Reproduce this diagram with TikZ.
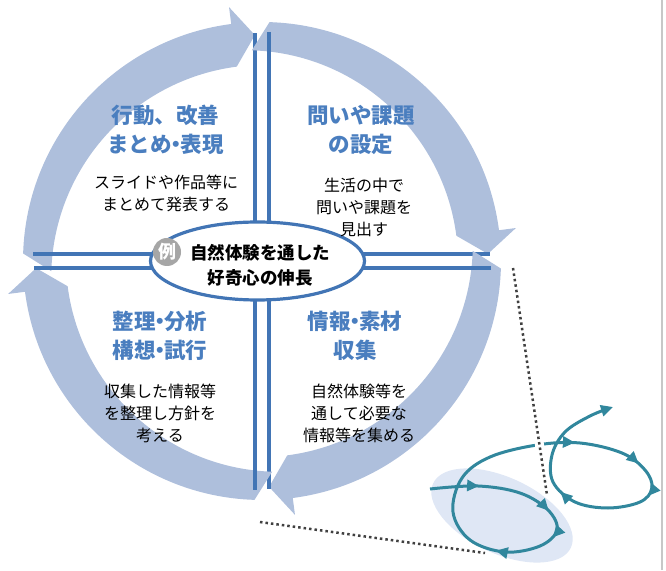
\documentclass[tikz,border=0pt]{standalone}
\usepackage{fontspec}
\setmainfont{Noto Sans CJK JP}
\usetikzlibrary{arrows.meta,decorations.markings,positioning,shapes.geometric}

\definecolor{bandblue}{RGB}{174,191,220}
\definecolor{lineblue}{RGB}{66,117,181}
\definecolor{titleblue}{RGB}{74,126,191}
\definecolor{loopteal}{RGB}{49,135,157}
\definecolor{paleblue}{RGB}{223,231,245}

\newcommand{\dotsep}{\kern-0.3em・\kern-0.3em}

\tikzset{
  tealtip/.style={-{Triangle[length=12pt,width=11pt]}},
  divider/.style={draw=lineblue,line width=3.2pt},
  steptitle/.style={text=titleblue,font=\fontsize{21.5}{29}\selectfont\bfseries,align=center},
  stepbody/.style={font=\fontsize{16}{22}\selectfont,align=center},
}

\begin{document}
\begin{tikzpicture}[x=1pt,y=1pt]
    \useasboundingbox (0,0) rectangle (666,570);

    % four arrow bands and dividers of the cycle
    \foreach \r in {0,-90,-180,-270} {
      \begin{scope}[shift={(262,309)},rotate=\r]
        \fill[bandblue] (178.2:239) arc[start angle=178.2,end angle=97.4,radius=239]
          -- (97.4:256) -- (91.8:226) -- (97.4:196)
          arc[start angle=97.4,end angle=178.2,radius=213] -- cycle;
        \draw[divider] (-229,7) -- (-7,7) -- (-7,228);
      \end{scope}
    }

    % centre theme
    \node[ellipse,draw=lineblue,line width=3.2pt,fill=white,
          minimum width=214pt,minimum height=78pt] (hub) at (257.5,309) {};
    \node[font=\fontsize{17.5}{25}\selectfont\bfseries,align=center] (theme) at (260,304.5)
        {自然体験を通した\\好奇心の伸長};
    \node[circle,fill=black!35,text=white,inner sep=0pt,minimum size=28pt,
          font=\fontsize{18}{18}\selectfont\bfseries] (rei) at (167,318) {例};

    % step texts
    \node[steptitle] (act) at (165.5,440) {行動、改善\\まとめ\dotsep 表現};
    \node[stepbody] (actnote) at (166,377) {スライドや作品等に\\まとめて発表する};

    \node[steptitle] (ask) at (361,440) {問いや課題\\の設定};
    \node[stepbody] (asknote) at (364,363) {生活の中で\\問いや課題を\\見出す};

    \node[steptitle] (sort) at (160,234) {整理\dotsep 分析\\構想\dotsep 試行};
    \node[stepbody] (sortnote) at (160,157) {収集した情報等\\を整理し方針を\\考える};

    \node[steptitle] (get) at (355,234) {情報\dotsep 素材\\収集};
    \node[stepbody] (getnote) at (359,157) {自然体験等を\\通して必要な\\情報等を集める};

    % spiral detail
    \fill[paleblue,rotate around={-25:(502,54.5)}] (502,54.5) ellipse[x radius=76,y radius=38];
    \draw[loopteal,line width=3pt,tealtip,postaction={decorate},
          decoration={markings,
            mark=at position 0.065 with {\arrow{Triangle[length=12pt,width=11pt]}},
            mark=at position 0.165 with {\arrow{Triangle[length=12pt,width=11pt]}},
            mark=at position 0.205 with {\arrow{Triangle[length=12pt,width=11pt]}},
            mark=at position 0.285 with {\arrow{Triangle[length=12pt,width=11pt]}},
            mark=at position 0.575 with {\arrow{Triangle[length=12pt,width=11pt]}},
            mark=at position 0.665 with {\arrow{Triangle[length=12pt,width=11pt]}},
            mark=at position 0.715 with {\arrow{Triangle[length=12pt,width=11pt]}},
            mark=at position 0.84 with {\arrow{Triangle[length=12pt,width=11pt]}}}]
      plot[smooth,tension=0.6] coordinates {(430,81) (478,84) (520,77) (548,60) (557,40)
        (540,24) (505,18) (470,30) (453,58) (462,92) (490,113) (537,125) (580,127)
        (622,117) (645,100) (652,82) (640,68) (608,62) (575,68) (553,88) (552,115)
        (565,138) (590,154) (613,163)};

    % leader lines to the detail
    \coordinate (lead1) at (513,302);
    \coordinate (lead1end) at (547,75);
    \coordinate (lead2) at (260,48);
    \coordinate (lead2end) at (485,17);
    \draw[black!75,line width=2.5pt,dash pattern=on 2.5pt off 3pt,
          preaction={draw=white,line width=9pt,solid}] (lead1) -- (lead1end);
    \draw[black!75,line width=2.5pt,dash pattern=on 2.5pt off 3pt] (lead2) -- (lead2end);

    % page edge
    \draw[black!22,line width=2.5pt] (662,0) -- (662,570);
\end{tikzpicture}
\end{document}
